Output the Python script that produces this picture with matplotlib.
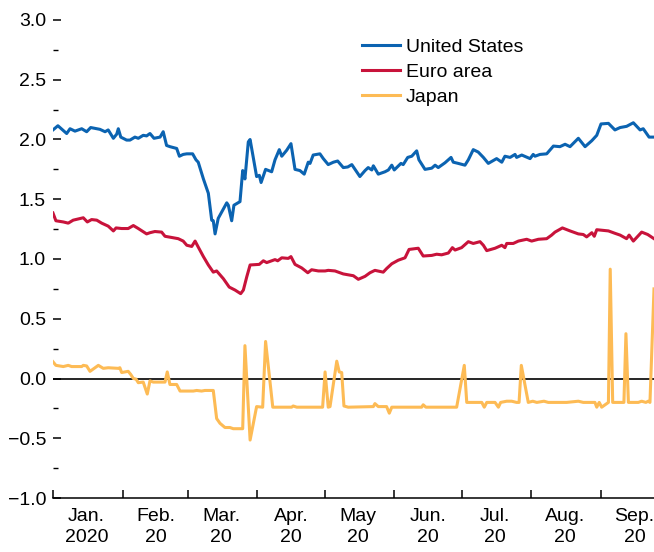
import numpy as np
import pandas as pd
import matplotlib
matplotlib.use("Agg")
import matplotlib.pyplot as plt
import matplotlib.dates as mdates
from matplotlib.ticker import MultipleLocator, FuncFormatter

# days since 2020-01-01, values in percent
us_days = [0, 2.2, 6.1, 7.6, 9.8, 12.8, 15.0, 16.8, 20.9, 23.2, 24.6, 26.9, 28.4, 29.1, 30.2,
           32.8, 34.3, 36.5, 38.0, 40.2, 41.7, 43.2, 45.0, 47.7, 49.1, 50.6, 52.1, 55.1, 56.3,
           58.0, 59.6, 62.2, 63.7, 64.7, 67.0, 69.2, 70.7, 71.4, 72.2, 73.6, 77.4, 78.1, 79.6,
           80.6, 83.3, 84.5, 85.5, 87.0, 87.8, 90.7, 91.9, 92.7, 94.7, 97.4, 98.9, 100.8, 101.9,
           104.1, 106.0, 107.8, 110.0, 111.9, 113.7, 114.5, 115.9, 118.9, 120.4, 122.6, 124.9,
           126.8, 129.3, 131.3, 133.1, 136.7, 139.0, 140.4, 142.0, 142.7, 144.9, 147.9, 149.4,
           150.9, 152.0, 155.0, 156.0, 158.0, 159.8, 162.0, 163.0, 165.7, 168.7, 170.2, 171.6,
           174.6, 177.3, 178.3, 180.5, 183.5, 185.0, 187.2, 189.4, 191.7, 193.9, 197.6, 199.9,
           201.3, 203.6, 205.8, 206.5, 208.8, 212.5, 213.9, 214.7, 216.9, 219.9, 222.9, 225.8,
           228.1, 230.3, 234.0, 237.0, 240.0, 242.2, 244.1, 247.4, 250.3, 252.6, 255.5, 258.5,
           261.5, 262.9, 265.5, 267.7]
us_vals = [2.08, 2.115, 2.05, 2.09, 2.07, 2.09, 2.065, 2.10, 2.085, 2.065, 2.08, 2.01, 2.045, 2.09, 2.02,
           1.995, 1.995, 2.02, 2.01, 2.035, 2.03, 2.05, 2.01, 2.02, 2.065, 1.95, 1.94, 1.925, 1.86,
           1.875, 1.88, 1.88, 1.83, 1.81, 1.67, 1.55, 1.325, 1.32, 1.21, 1.34, 1.47, 1.45, 1.32,
           1.45, 1.48, 1.74, 1.67, 1.98, 2.00, 1.69, 1.70, 1.64, 1.75, 1.73, 1.83, 1.915, 1.86,
           1.91, 1.965, 1.75, 1.74, 1.71, 1.81, 1.80, 1.87, 1.88, 1.84, 1.79, 1.81,
           1.82, 1.765, 1.77, 1.79, 1.69, 1.74, 1.765, 1.745, 1.78, 1.71, 1.73, 1.745,
           1.785, 1.745, 1.80, 1.79, 1.85, 1.86, 1.905, 1.83, 1.75, 1.76, 1.785, 1.765,
           1.805, 1.85, 1.81, 1.80, 1.785, 1.83, 1.915, 1.895, 1.85, 1.80, 1.84, 1.81,
           1.86, 1.85, 1.875, 1.85, 1.87, 1.84, 1.875, 1.86, 1.875, 1.88, 1.945, 1.94,
           1.96, 1.94, 2.01, 1.94, 1.99, 2.035, 2.13, 2.135, 2.08, 2.10, 2.11, 2.14,
           2.08, 2.09, 2.02, 2.02]

ea_days = [0, 1.3, 4.6, 6.8, 9.0, 13.5, 15.3, 17.2, 19.5, 21.7, 24.6, 26.9, 28.1, 30.6, 33.5,
           35.8, 38.0, 41.7, 43.2, 45.4, 48.4, 49.9, 52.9, 55.8, 58.0, 59.6, 61.8, 63.3, 64.7,
           67.0, 69.2, 71.4, 72.9, 75.9, 78.5, 81.1, 83.6, 84.8, 86.3, 87.8, 91.9, 93.7, 95.2,
           98.9, 100.1, 101.9, 104.8, 106.0, 107.8, 110.8, 113.5, 115.2, 118.2, 121.2, 122.6,
           125.6, 129.3, 133.8, 136.0, 139.0, 141.2, 143.4, 147.1, 148.6, 150.9, 153.8, 156.8,
           158.6, 162.7, 164.9, 168.7, 170.9, 173.1, 176.1, 177.9, 179.1, 182.0, 185.0, 187.2,
           190.2, 191.7, 193.2, 196.9, 199.9, 201.3, 202.1, 205.0, 207.3, 211.0, 213.2, 216.2,
           219.9, 222.1, 223.6, 226.9, 230.3, 234.0, 236.2, 237.7, 240.0, 241.1, 242.2, 247.4,
           250.3, 252.6, 255.5, 256.6, 258.5, 262.2, 264.9, 267.7]
ea_vals = [1.385, 1.32, 1.31, 1.30, 1.325, 1.345, 1.31, 1.33, 1.325, 1.30, 1.275, 1.235, 1.26, 1.255, 1.255,
           1.28, 1.255, 1.21, 1.22, 1.23, 1.225, 1.19, 1.18, 1.17, 1.15, 1.115, 1.105, 1.15, 1.10,
           1.02, 0.95, 0.89, 0.90, 0.835, 0.765, 0.74, 0.71, 0.74, 0.85, 0.95, 0.955, 0.985, 0.97,
           0.995, 0.985, 1.01, 1.005, 1.02, 0.955, 0.925, 0.885, 0.91, 0.90, 0.90, 0.905,
           0.90, 0.875, 0.86, 0.83, 0.855, 0.885, 0.905, 0.89, 0.92, 0.96, 0.99, 1.01,
           1.08, 1.09, 1.025, 1.03, 1.04, 1.035, 1.05, 1.095, 1.075, 1.095, 1.145, 1.13,
           1.145, 1.115, 1.07, 1.09, 1.115, 1.095, 1.13, 1.13, 1.15, 1.165, 1.15, 1.165,
           1.17, 1.20, 1.225, 1.26, 1.235, 1.21, 1.205, 1.185, 1.22, 1.19, 1.245, 1.235,
           1.215, 1.20, 1.17, 1.20, 1.15, 1.225, 1.205, 1.17]

jp_days = [0, 1.3, 4.6, 6.8, 8.3, 12.8, 13.5, 15.0, 16.5, 20.2, 22.4, 24.6, 29.1, 29.8, 30.6,
           33.5, 34.6, 35.8, 37.0, 38.0, 40.2, 42.0, 43.2, 44.7, 49.9, 50.9, 52.1, 55.1, 56.6,
           62.5, 64.0, 66.2, 67.7, 71.4, 72.9, 74.4, 76.6, 78.8, 80.3, 84.5, 85.5, 87.8, 90.7,
           93.4, 94.7, 97.9, 106.3, 107.0, 108.6, 120.1, 121.2, 122.6, 123.4, 126.4, 127.5,
           128.6, 129.6, 131.5, 142.7, 143.4, 144.9, 148.6, 149.8, 150.9, 164.2, 164.9, 166.1,
           179.8, 183.2, 184.3, 191.0, 192.1, 193.2, 196.9, 198.4, 199.4, 202.1, 204.3, 206.5,
           207.6, 208.6, 211.7, 213.7, 215.5, 218.7, 220.6, 228.8, 234.0, 236.2, 241.4, 242.2,
           243.3, 244.4, 247.4, 248.2, 249.3, 254.3, 255.2, 256.3, 260.7, 262.2, 264.1, 265.1,
           265.9, 267.7]
jp_vals = [0.14, 0.11, 0.10, 0.11, 0.10, 0.10, 0.11, 0.105, 0.06, 0.11, 0.085, 0.09, 0.085, 0.09, 0.05,
           0.06, 0.035, 0.0, -0.005, -0.035, -0.03, -0.13, -0.02, -0.03, -0.03, 0.055, -0.05, -0.05, -0.105,
           -0.105, -0.10, -0.105, -0.10, -0.10, -0.335, -0.375, -0.41, -0.41, -0.42, -0.42, 0.275, -0.515, -0.235,
           -0.24, 0.31, -0.24, -0.24, -0.23, -0.24, -0.24, 0.055, -0.24, -0.235, 0.145, 0.055,
           0.05, -0.23, -0.24, -0.235, -0.21, -0.235, -0.235, -0.29, -0.24, -0.24, -0.22, -0.24,
           -0.24, 0.11, -0.20, -0.20, -0.24, -0.20, -0.20, -0.24, -0.20, -0.19, -0.19, -0.20,
           -0.20, 0.11, -0.20, -0.19, -0.20, -0.19, -0.20, -0.20, -0.19, -0.20, -0.20, -0.24,
           -0.20, -0.24, -0.20, 0.915, -0.20, -0.20, 0.375, -0.20, -0.20, -0.19, -0.20, -0.19,
           -0.20, 0.75]

series = ["United States", "Euro area", "Japan"]
colors = ["#0b63b1", "#c8133b", "#fdbb55"]

start = pd.Timestamp("2020-01-01")


def to_dates(days):
    return start + pd.to_timedelta(np.array(days), unit="D")


plt.rcParams["font.family"] = ["Liberation Sans", "DejaVu Sans"]

fig = plt.figure(figsize=(6.54, 5.52), dpi=100)
ax = fig.add_axes([0.081, 0.0978, 0.919, 0.866])

ax.axhline(0, color="black", linewidth=1.2, zorder=1)
for name, days, vals, c in zip(series, [us_days, ea_days, jp_days], [us_vals, ea_vals, jp_vals], colors):
    ax.plot(to_dates(days), vals, color=c, linewidth=2.2, label=name, zorder=2)

ax.set_ylim(-1.0, 3.0)
ax.set_xlim(start, start + pd.Timedelta(days=267.7))

# y axis: no spine, short inward ticks
ax.yaxis.set_major_locator(MultipleLocator(0.5))
ax.yaxis.set_minor_locator(MultipleLocator(0.25))
ax.yaxis.set_major_formatter(FuncFormatter(lambda v, p: f"{v:.1f}".replace("-", "\u2212")))
ax.tick_params(axis="y", which="major", direction="in", length=5.5, width=1.1,
               labelsize=14, pad=5)
ax.tick_params(axis="y", which="minor", direction="in", length=3.5, width=1.0)

# x axis: month boundaries as ticks, labels centred in months
ax.xaxis.set_major_locator(mdates.MonthLocator())
ax.xaxis.set_minor_locator(mdates.MonthLocator(bymonthday=16))
ax.xaxis.set_major_formatter(plt.NullFormatter())


def month_label(x, pos):
    d = mdates.num2date(x)
    name = d.strftime("%b")
    if name != "May":
        name += "."
    year = str(d.year) if d.month == 1 else d.strftime("%y")
    return name + "\n" + year


ax.xaxis.set_minor_formatter(FuncFormatter(month_label))
ax.tick_params(axis="x", which="major", direction="in", length=5.5, width=1.1)
ax.tick_params(axis="x", which="minor", length=0, labelsize=14, pad=7)
for lab in ax.get_xticklabels(minor=True):
    lab.set_linespacing(1.35)

for s in ["top", "right", "left"]:
    ax.spines[s].set_visible(False)
ax.spines["bottom"].set_linewidth(1.1)

ax.legend(loc="upper left", bbox_to_anchor=(0.514, 0.962), frameon=False, fontsize=14,
          handlelength=1.95, handletextpad=0.3, labelspacing=0.38, borderpad=0,
          borderaxespad=0)

fig.savefig("out.png", dpi=100)
